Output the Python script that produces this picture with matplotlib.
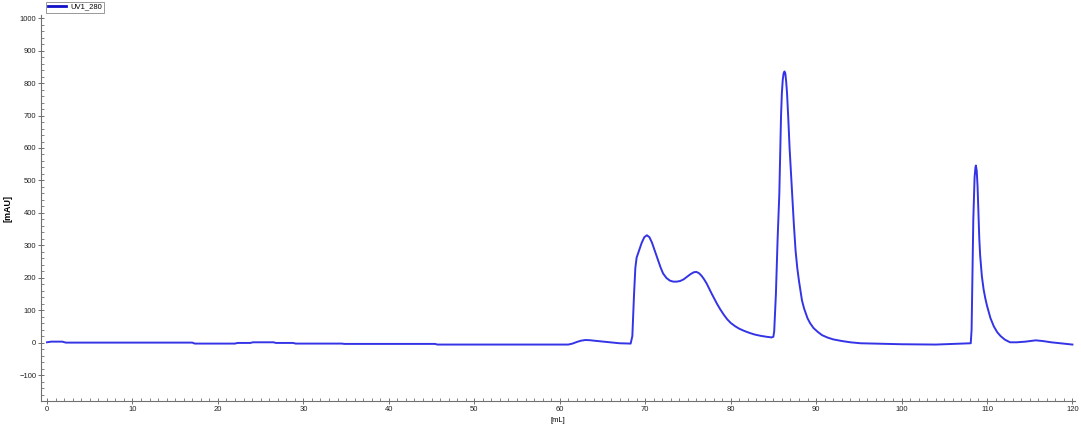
import matplotlib
matplotlib.use("Agg")
import matplotlib.pyplot as plt
from matplotlib.ticker import MultipleLocator

plt.rcParams['font.family'] = ['Liberation Sans', 'DejaVu Sans']

# UV trace (volume in mL, absorbance in mAU)
volume_ml = [0, 0.5, 1.8, 2.2, 17.0, 17.3, 22.0, 22.3, 23.8, 24.1, 26.5, 26.8,
             28.8, 29.1, 34.5, 34.8, 45.4, 45.7, 61.0, 61.5, 62.0, 62.5, 63.0,
             63.5, 64.0, 65.5, 67.0, 68.3,
             68.5, 68.7, 68.85, 69.0, 69.3, 69.6, 69.9, 70.2, 70.5, 70.8, 71.1,
             71.5, 71.8, 72.1, 72.5, 72.9, 73.3, 73.7, 74.1, 74.5, 74.9, 75.3,
             75.7, 76.0, 76.3, 76.6, 76.9, 77.2, 77.5, 77.8, 78.1, 78.4, 78.8,
             79.2, 79.6, 80.0, 80.5, 81.0, 81.6, 82.2, 82.8, 83.5, 84.2, 84.8,
             85.0, 85.1, 85.3, 85.5, 85.7, 85.9, 86.0, 86.1, 86.2, 86.3, 86.4,
             86.5, 86.6, 86.75, 86.9, 87.05, 87.2, 87.4, 87.6, 87.8, 88.0, 88.2,
             88.35, 88.6, 88.8, 89.0, 89.3, 89.7, 90.2, 90.7, 91.3, 92.0, 93.0,
             94.0, 95.2, 100.0, 104.0, 107.0,
             108.1, 108.2, 108.3, 108.4, 108.55, 108.65, 108.7, 108.8, 108.9,
             109.0, 109.1, 109.2, 109.4, 109.6, 109.8, 110.0, 110.4, 110.8,
             111.2, 111.6, 112.1, 112.7, 113.5, 114.5, 115.7, 116.5, 117.5,
             119.0, 120.0]
uv_mau = [1, 3, 3, 0, 0, -3, -3, -1, -1, 1, 1, -1,
          -1, -3, -3, -4, -4, -6, -6, -3, 2, 6, 8,
          7.5, 6, 2, -2, -3,
          20, 150, 230, 262, 285, 308, 325, 331, 325, 308, 285,
          255, 232, 213, 199, 191, 188, 188, 190, 195, 203, 211,
          217, 218, 214, 206, 195, 182, 166, 150, 135, 120, 102,
          86, 72, 61, 51, 43, 36, 30, 25, 21, 18, 16,
          18, 35, 150, 320, 460, 700, 770, 810, 830, 836, 830,
          805, 770, 690, 600, 530, 460, 365, 284, 230, 190, 155,
          130, 105, 90, 75, 60, 45, 33, 23, 16, 10, 5,
          1, -2, -5, -6, -3,
          -2, 40, 200, 380, 510, 540, 546, 530, 480,
          400, 320, 269, 205, 165, 137, 114, 76, 50,
          32, 20, 9, 1, 1, 3, 7, 5, 1,
          -3, -6]

series_name = "UV1_280"
x_label = "[mL]"
y_label = "[mAU]"

fig = plt.figure(figsize=(10.81, 4.30), dpi=100)
ax = fig.add_axes([41 / 1081, 1 - 401 / 430, 1034 / 1081, 386 / 430])

line, = ax.plot(volume_ml, uv_mau, color='#3434e6', linewidth=1.4,
                solid_joinstyle='round', label=series_name)

ax.set_xlim(-0.7, 120.3)
ax.set_ylim(-180, 1010)

ax.xaxis.set_major_locator(MultipleLocator(10))
ax.xaxis.set_minor_locator(MultipleLocator(1))
ax.yaxis.set_major_locator(MultipleLocator(100))
ax.yaxis.set_minor_locator(MultipleLocator(20))

for side in ['top', 'right']:
    ax.spines[side].set_visible(False)
for side in ['left', 'bottom']:
    ax.spines[side].set_color('#707070')
    ax.spines[side].set_linewidth(0.8)

ax.tick_params(which='major', direction='inout', length=4, width=0.7,
               color='#707070', labelsize=5.5, labelcolor='#222222', pad=1.5)
ax.tick_params(which='minor', direction='in', length=2.5, width=0.6,
               color='#707070')

ax.set_xlabel(x_label, fontsize=5.5, labelpad=3)
ax.set_ylabel(y_label, fontsize=6.5, fontweight='bold', labelpad=5)

# legend box above the plot area, top-left
leg = fig.legend(handles=[line], loc='upper left',
                 bbox_to_anchor=(46 / 1081, 1 - 1.5 / 430), fontsize=5.5,
                 frameon=True, fancybox=False, edgecolor='#888888',
                 framealpha=1, borderpad=0.25, handlelength=2.4,
                 handletextpad=0.6, borderaxespad=0)
leg.get_frame().set_linewidth(0.6)
leg.get_lines()[0].set_color('#1010c8')
leg.get_lines()[0].set_linewidth(2)

fig.savefig('out.png', dpi=100)
